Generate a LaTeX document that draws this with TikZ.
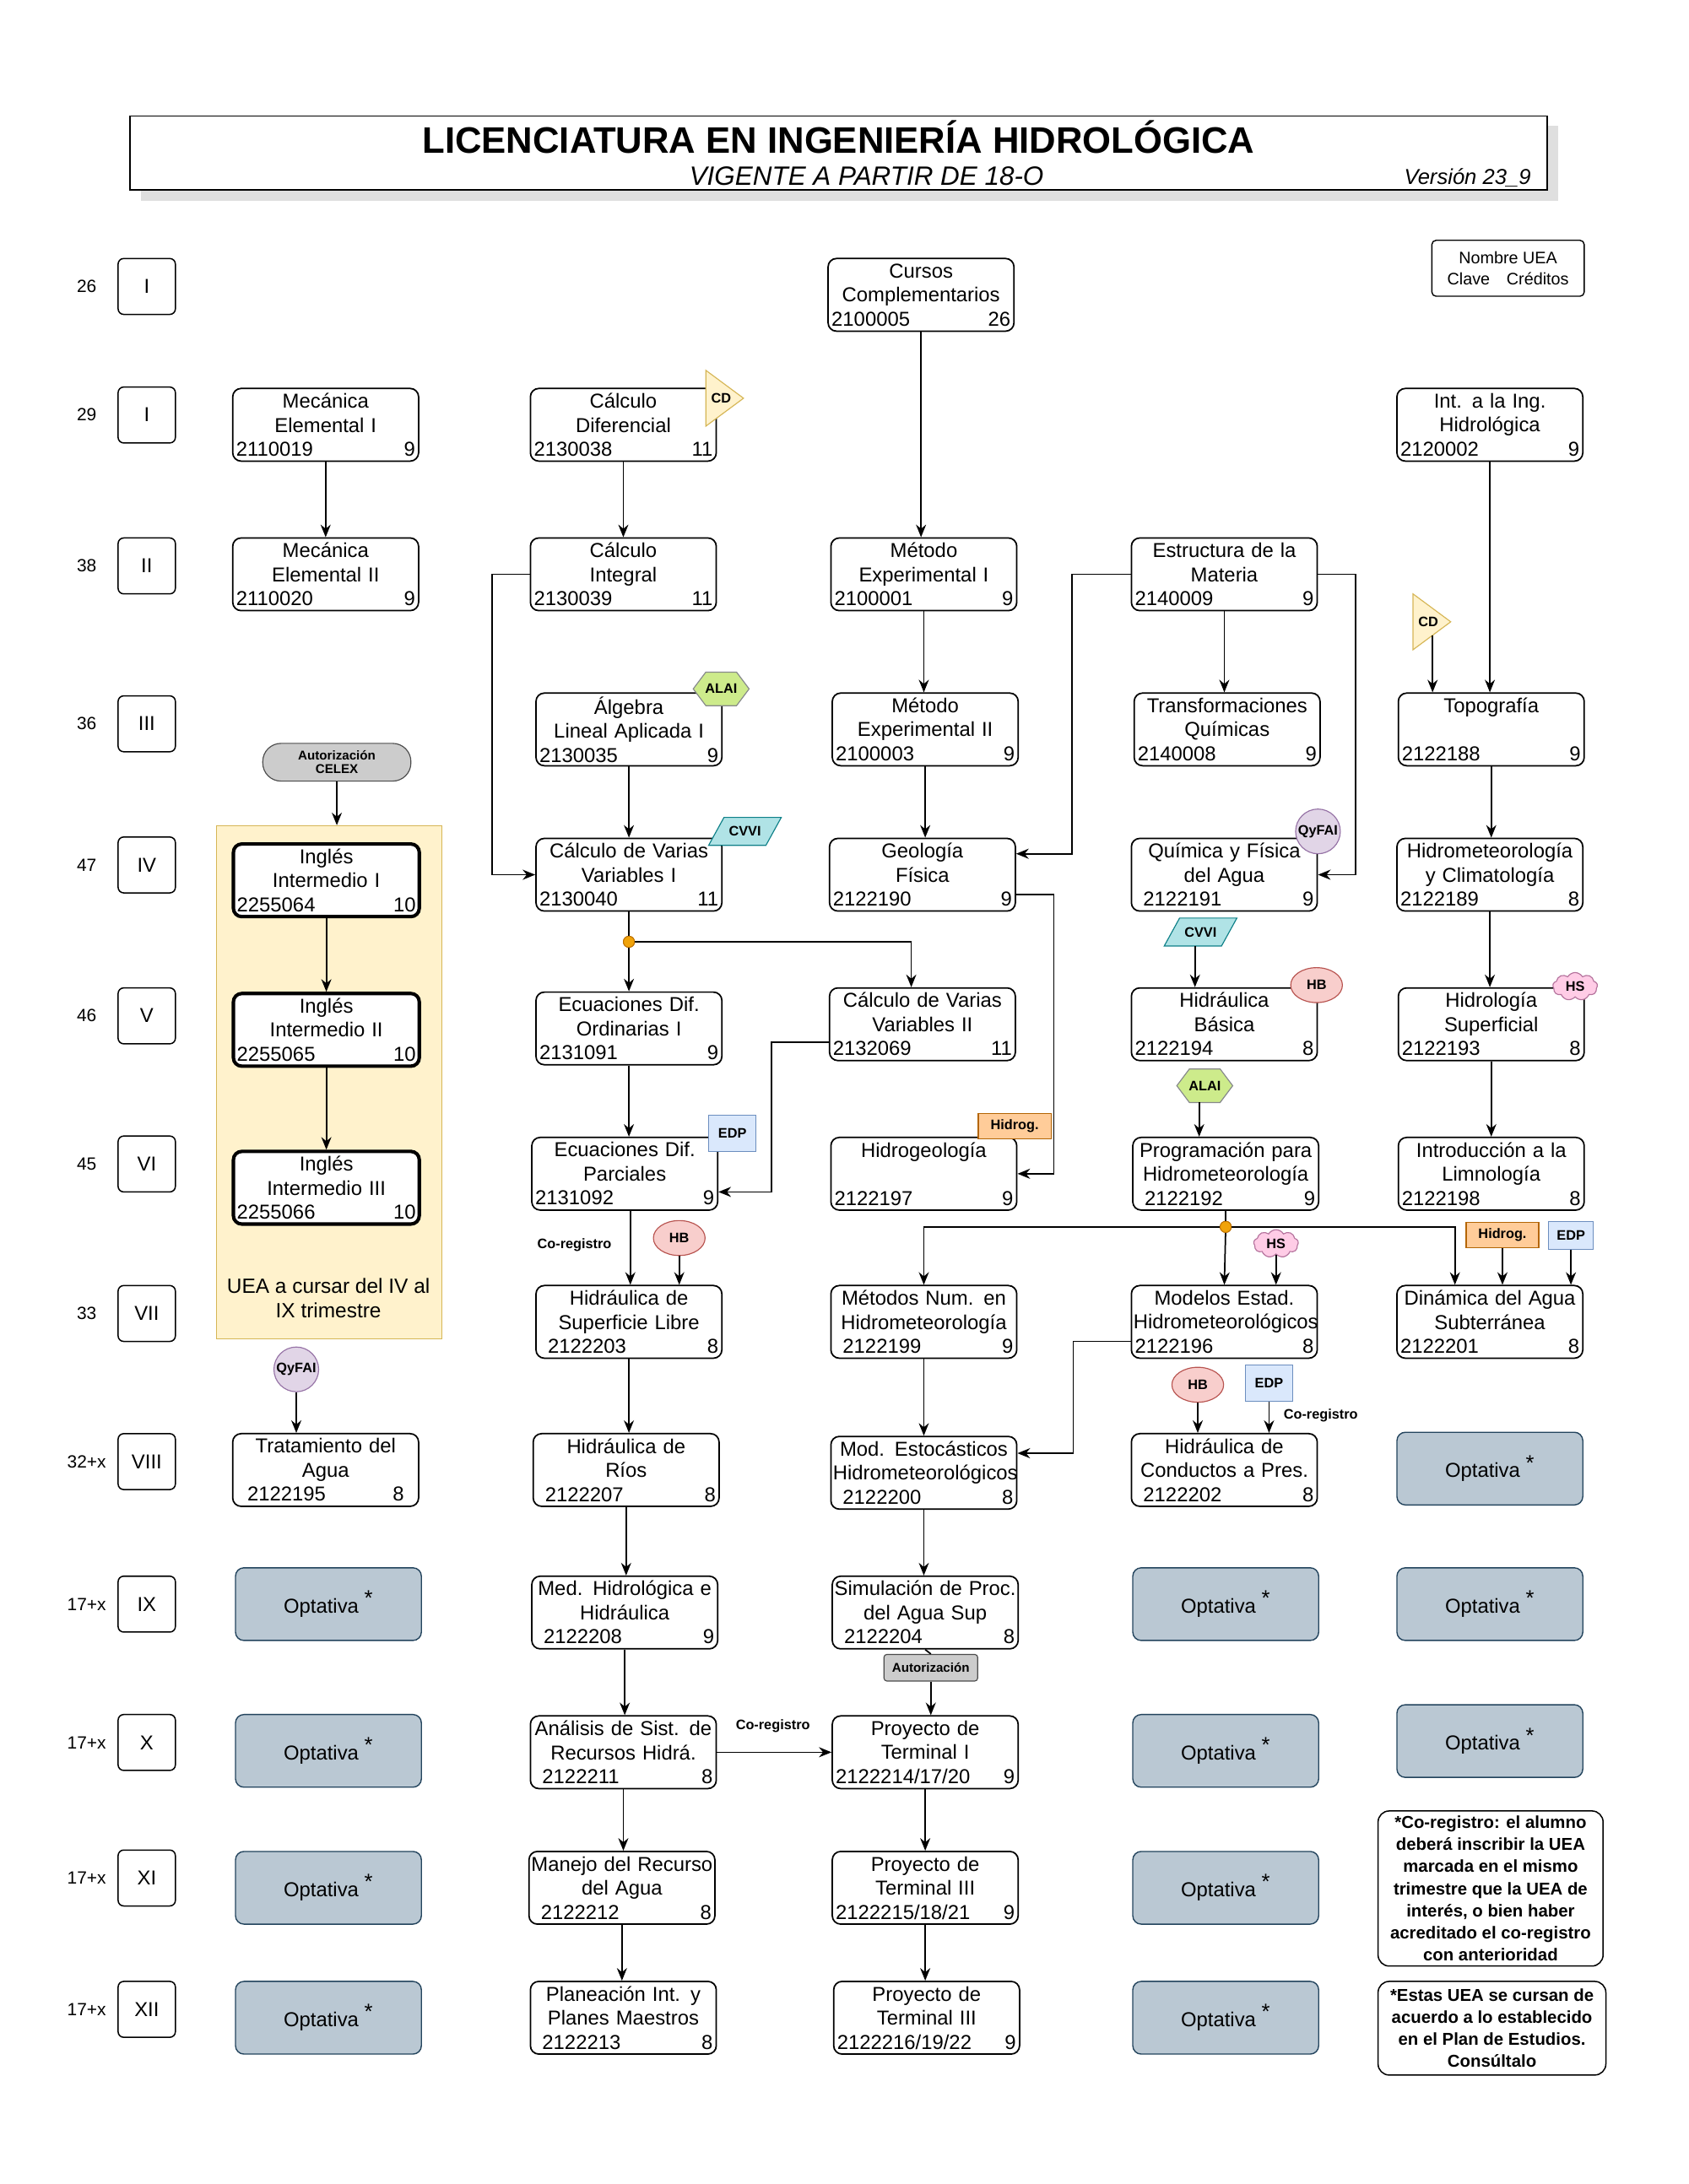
\documentclass[tikz,border=0pt]{standalone}
\usepackage{fontspec}
\setmainfont{Liberation Sans}
\usetikzlibrary{arrows.meta,calc,shapes.geometric,shapes.symbols}
\definecolor{optf}{HTML}{BAC8D3}\definecolor{optd}{HTML}{23445D}
\definecolor{yelf}{HTML}{FFF2CC}\definecolor{yeld}{HTML}{D6B656}
\definecolor{grnf}{HTML}{CDEB8B}\definecolor{grnd}{HTML}{36393D}
\definecolor{cyaf}{HTML}{B0E3E6}\definecolor{cyad}{HTML}{0E8088}
\definecolor{purf}{HTML}{E1D5E7}\definecolor{purd}{HTML}{9673A6}
\definecolor{redf}{HTML}{F8CECC}\definecolor{redd}{HTML}{B85450}
\definecolor{pnkf}{HTML}{FFCCE6}\definecolor{pnkd}{HTML}{B5739D}
\definecolor{bluf}{HTML}{DAE8FC}\definecolor{blud}{HTML}{6C8EBF}
\definecolor{orgf}{HTML}{FFCC99}\definecolor{orgd}{HTML}{B46504}
\definecolor{dotf}{HTML}{F0A30A}\definecolor{dotd}{HTML}{BD7000}
\newcommand\bxf{\fontsize{20.5}{24.5}\selectfont}
\newcommand\bdf{\fontsize{14}{16}\selectfont\bfseries}
\tikzset{
 uea/.style={draw,fill=white,line width=1.5pt,rounded corners=3mm,minimum width=66.5mm,minimum height=26mm,text width=65mm,align=center,inner sep=0.5pt,font=\bxf},
 thk/.style={uea,line width=3.5pt},
 opt/.style={draw=optd,fill=optf,line width=1.2pt,rounded corners=3mm,minimum width=66.5mm,minimum height=26mm,font=\bxf},
 rom/.style={draw,line width=1.3pt,rounded corners=2mm,minimum width=20.5mm,minimum height=20mm,font=\bxf},
 num/.style={font=\fontsize{18}{20}\selectfont},
 arr/.style={-{Stealth[length=4.5mm,width=3.6mm]},line width=1.5pt},
 ln/.style={line width=1.5pt},
 bdg/.style={font=\bdf,inner sep=0pt},
 circ/.style={circle,draw=purd,fill=purf,line width=1pt,minimum size=16mm,bdg},
 hbs/.style={ellipse,draw=redd,fill=redf,line width=1pt,minimum width=18.5mm,minimum height=12.5mm,bdg},
 hsc/.style={cloud,cloud puffs=9,cloud puff arc=120,aspect=1.7,draw=pnkd,fill=pnkf,line width=1pt,minimum width=16mm,minimum height=10mm,bdg},
 edpt/.style={rectangle,draw=blud,fill=bluf,line width=1pt,minimum width=17mm,minimum height=13mm,bdg},
 hgt/.style={rectangle,draw=orgd,fill=orgf,line width=1pt,minimum width=26mm,minimum height=9mm,bdg},
 dotn/.style={circle,draw=dotd,fill=dotf,line width=0.8pt,minimum size=4mm,inner sep=0pt},
 lbl/.style={font=\bdf},
 note/.style={draw,line width=1.3pt,rounded corners=4mm,align=center,font=\fontsize{17.5}{22.5}\selectfont\bfseries,inner sep=0.5pt},
}
\newcommand\uea[6]{\node[uea] (#1) at (#2,#3) {#4\\\makebox[64mm]{#5\hfill#6}};}
\newcommand\ueat[6]{\node[thk] (#1) at (#2,#3) {#4\\\makebox[64mm]{#5\hfill#6}};}
\newcommand\optn[3]{\node[opt] (#1) at (#2,#3) {\raisebox{-1.2mm}{Optativa \textsuperscript{\fontsize{22}{22}\selectfont *}}};}
\newcommand\vd[2]{\draw[arr] (#1.south) -- (#1.south |- #2.north);}
\newcommand\romn[4]{\node[num] (n#1) at (62,#2) {#3}; \node[rom] (r#1) at (105,#2) {#4};}
\newcommand\hexn[4]{\begin{scope}[shift={(#2,#3)}]\draw[draw=grnd!60,fill=grnf,line width=1pt] (-20,0)--(-11,-12)--(11,-12)--(20,0)--(11,12)--(-11,12)--cycle;\node[bdg] (#1) at (0,0) {#4};\end{scope}}
\newcommand\parn[3]{\begin{scope}[shift={(#2,#3)}]\draw[draw=cyad,fill=cyaf,line width=1pt] (-26,10)--(-15,-10)--(26,-10)--(15,10)--cycle;\node[bdg] (#1) at (0,0) {CVVI};\end{scope}}
\newcommand\trin[3]{\begin{scope}[shift={(#2,#3)}]\draw[draw=yeld,fill=yelf,line width=1pt] (0,0)--(27,20)--(0,40)--cycle;\node[bdg] (#1) at (11,20) {CD};\end{scope}}
\begin{document}
\begin{tikzpicture}[x=0.5mm,y=-0.5mm]
\useasboundingbox (0,0) rectangle (1208,1563);
% title
\fill[gray!25] (101,90) rectangle (1115,144);
\node[draw,line width=1.4pt,fill=white,minimum width=507mm,minimum height=26.5mm] (tbox) at (600,109.5) {};
\node[font=\fontsize{37.5}{40}\selectfont\bfseries] (title) at (600,98) {LICENCIATURA EN INGENIERÍA HIDROLÓGICA};
\node[font=\fontsize{27}{30}\selectfont\itshape] (sub) at (620,126) {VIGENTE A PARTIR DE 18-O};
\node[font=\fontsize{22}{24}\selectfont\itshape] (ver) at (1050,127) {Versión 23\_9};
% legend
\node[draw,line width=1.2pt,rounded corners=1.5mm,minimum width=54.5mm,minimum height=20mm,align=center,font=\fontsize{17}{22}\selectfont] (leg) at (1079,192) {Nombre UEA\\Clave\quad Créditos};
% rows
\romn{1}{205}{26}{I}
\romn{2}{297}{29}{I}
\romn{3}{405}{38}{II}
\romn{4}{518}{36}{III}
\romn{5}{619}{47}{IV}
\romn{6}{727}{46}{V}
\romn{7}{833}{45}{VI}
\romn{8}{940}{33}{VII}
\romn{9}{1046}{32+x}{VIII}
\romn{10}{1148}{17+x}{IX}
\romn{11}{1247}{17+x}{X}
\romn{12}{1344}{17+x}{XI}
\romn{13}{1438}{17+x}{XII}
% panel
\node[draw=yeld,fill=yelf,line width=1.2pt,minimum width=80.5mm,minimum height=183.5mm] (panel) at (235.5,774.5) {};
\node[font=\fontsize{21}{25}\selectfont,align=center,inner sep=0pt] (ptxt) at (235,929) {UEA a cursar del IV al\\IX trimestre};
\node[draw=black!70,fill=black!20,line width=1pt,rounded corners=6.5mm,minimum width=53mm,minimum height=13.5mm,align=center,font=\fontsize{13}{14}\selectfont\bfseries] (celex) at (241,545.5) {Autorización\\CELEX};
% column 1
\uea{me1}{233}{304}{Mecánica\\Elemental I}{2110019}{9}
\uea{me2}{233}{411}{Mecánica\\Elemental II}{2110020}{9}
\ueat{ing1}{233.5}{630}{Inglés\\Intermedio I}{2255064}{10}
\ueat{ing2}{233.5}{737}{Inglés\\Intermedio II}{2255065}{10}
\ueat{ing3}{233.5}{850}{Inglés\\Intermedio III}{2255066}{10}
\node[circ] (qy1) at (212,980) {QyFAI};
\uea{ta}{233}{1052}{Tratamiento del\\Agua}{\hspace{4mm}2122195}{8\hspace{4mm}}
\optn{op1a}{235}{1148}
\optn{op1b}{235}{1253}
\optn{op1c}{235}{1351}
\optn{op1d}{235}{1444}
% column 2
\uea{cd1}{446}{304}{Cálculo\\Diferencial}{2130038}{11}
\trin{cda}{505}{265}
\uea{ci}{446}{411}{Cálculo\\Integral}{2130039}{11}
\uea{al}{450}{522}{Álgebra\\Lineal Aplicada I}{2130035}{9}
\hexn{ala1}{516}{493}{ALAI}
\uea{cv1}{450}{626}{Cálculo de Varias\\Variables I}{2130040}{11}
\parn{cvv1}{533}{595}
\uea{edo}{450}{736}{Ecuaciones Dif.\\Ordinarias I}{2131091}{9}
\uea{edp}{447}{840}{Ecuaciones Dif.\\Parciales}{2131092}{9}
\node[edpt] (edp1) at (524,811) {EDP};
\node[lbl] (co1) at (411,891) {Co-registro};
\node[hbs] (hb1) at (486,886) {HB};
\uea{hsl}{450}{946}{Hidráulica de\\Superficie Libre}{\hspace{3mm}2122203}{8}
\uea{hr}{448}{1052}{Hidráulica de\\Ríos}{\hspace{3mm}2122207}{8}
\uea{mh}{447}{1154}{Med. Hidrológica e\\Hidráulica}{\hspace{3mm}2122208}{9}
\uea{an}{446}{1254}{Análisis de Sist. de\\Recursos Hidrá.}{\hspace{3mm}2122211}{8}
\uea{mr}{445}{1351}{Manejo del Recurso\\del Agua}{\hspace{3mm}2122212}{8}
\uea{pl}{446}{1444}{Planeación Int. y\\Planes Maestros}{\hspace{3mm}2122213}{8}
% column 3
\uea{cc}{659}{211}{Cursos\\Complementarios}{2100005}{26}
\uea{mx1}{661}{411}{Método\\Experimental I}{2100001}{9}
\uea{mx2}{662}{522}{Método\\Experimental II}{2100003}{9}
\uea{geo}{660}{626}{Geología\\Física}{2122190}{9}
\uea{cv2}{660}{733}{Cálculo de Varias\\Variables II}{2132069}{11}
\uea{hg}{661}{840}{Hidrogeología\\\mbox{}}{2122197}{9}
\node[hgt] (hgt1) at (726,806) {Hidrog.};
\uea{mn}{661}{946}{Métodos Num. en\\Hidrometeorología}{\hspace{3mm}2122199}{9}
\uea{mest}{661}{1054}{Mod. Estocásticos\\Hidrometeorológicos}{\hspace{3mm}2122200}{8}
\uea{sim}{662}{1154}{Simulación de Proc.\\del Agua Sup}{\hspace{3mm}2122204}{8}
\node[draw=black!70,fill=black!20,line width=1pt,rounded corners=1mm,minimum width=33.5mm,minimum height=9.5mm,font=\fontsize{13}{14}\selectfont\bfseries,inner sep=0pt] (aut) at (666,1193.5) {Autorización};
\uea{pt1}{662}{1254}{Proyecto de\\Terminal I}{2122214/17/20}{9}
\uea{pt2}{662}{1351}{Proyecto de\\Terminal III}{2122215/18/21}{9}
\uea{pt3}{663}{1444}{Proyecto de\\Terminal III}{2122216/19/22}{9}
% column 4
\uea{em}{876}{411}{Estructura de la\\Materia}{2140009}{9}
\uea{tq}{878}{522}{Transformaciones\\Químicas}{2140008}{9}
\uea{qfa}{876}{626}{Química y Física\\del Agua}{\hspace{3mm}2122191}{9}
\node[circ] (qy2) at (943,595) {QyFAI};
\parn{cvv2}{859}{667}
\uea{hb}{876}{733}{Hidráulica\\Básica}{2122194}{8}
\node[hbs] (hb2) at (942,705) {HB};
\hexn{ala2}{862}{777}{ALAI}
\uea{prog}{877}{840}{Programación para\\Hidrometeorología}{\hspace{3mm}2122192}{9}
\node[dotn] (dot2) at (877,878) {};
\node[hsc] (hs2) at (913,890) {HS};
\uea{mod}{876}{946}{Modelos Estad.\\Hidrometeorológicos}{2122196}{8}
\node[hbs] (hb3) at (857,991) {HB};
\node[edpt] (edp3) at (908,990) {EDP};
\node[lbl] (co3) at (945,1013) {Co-registro};
\uea{hcp}{876}{1052}{Hidráulica de\\Conductos a Pres.}{\hspace{3mm}2122202}{8}
\optn{op4a}{877}{1148}
\optn{op4b}{877}{1253}
\optn{op4c}{877}{1351}
\optn{op4d}{877}{1444}
% column 5
\uea{iih}{1066}{304}{Int. a la Ing.\\Hidrológica}{2120002}{9}
\trin{cdb}{1011}{425}
\uea{topo}{1067}{522}{Topografía\\\mbox{}}{2122188}{9}
\uea{hyc}{1066}{626}{Hidrometeorología\\y Climatología}{2122189}{8}
\uea{hs}{1067}{733}{Hidrología\\Superficial}{2122193}{8}
\node[hsc] (hs1) at (1127,706) {HS};
\uea{lim}{1067}{840}{Introducción a la\\Limnología}{2122198}{8}
\node[hgt] (hgt2) at (1075,884) {Hidrog.};
\node[edpt,minimum height=10mm,minimum width=16mm] (edp2) at (1124,884) {EDP};
\uea{das}{1066}{946}{Dinámica del Agua\\Subterránea}{2122201}{8}
\optn{op5a}{1066}{1051}
\optn{op5b}{1066}{1148}
\optn{op5c}{1066}{1246}
\node[note,minimum width=80.5mm,minimum height=55.5mm] (note1) at (1066.5,1351.5) {*Co-registro: el alumno\\deberá inscribir la UEA\\marcada en el mismo\\trimestre que la UEA de\\interés, o bien haber\\acreditado el co-registro\\con anterioridad};
\node[note,minimum width=81.5mm,minimum height=33.5mm] (note2) at (1067.5,1451.5) {*Estas UEA se cursan de\\acuerdo a lo establecido\\en el Plan de Estudios.\\Consúltalo};
% connectors
\vd{me1}{me2} \vd{cd1}{ci} \vd{cc}{mx1} \vd{iih}{topo}
\vd{mx1}{mx2} \vd{mx2}{geo} \vd{em}{tq} \vd{topo}{hyc} \vd{hyc}{hs} \vd{hs}{lim}
\vd{al}{cv1} \vd{edo}{edp} \vd{hsl}{hr} \vd{hr}{mh} \vd{mh}{an} \vd{an}{mr} \vd{mr}{pl}
\vd{mn}{mest} \vd{mest}{sim} \vd{pt1}{pt2} \vd{pt2}{pt3}
\vd{ing1}{ing2} \vd{ing2}{ing3} \vd{celex}{panel} \vd{qy1}{ta}
\vd{hb1}{hsl} \vd{hs2}{mod} \vd{hgt2}{das} \vd{edp2}{das} \vd{hb3}{hcp} \vd{edp3}{hcp}
\draw[arr] ($(edp.south)+(4,0)$) -- ($(edp.south |- hsl.north)+(4,0)$);
\draw[ln] (sim.south) -- (aut.north);
\vd{aut}{pt1}
\coordinate (cdbs) at (1025,455);
\draw[arr] (cdbs) -- (cdbs |- topo.north);
\coordinate (cvv2s) at (855,677);
\draw[arr] (cvv2s) -- (cvv2s |- hb.north);
\coordinate (ala2s) at (858,789);
\draw[arr] (ala2s) -- (ala2s |- prog.north);
\draw[arr] (ci.west) -- ++(-27,0) |- (cv1.west);
\draw[arr] (em.west) -- ++(-42,0) |- ($(geo.east)+(0,-15)$);
\draw[arr] (em.east) -- ++(27,0) |- (qfa.east);
\node[dotn] (dot1) at (450,674) {};
\draw[ln] (cv1.south) -- (dot1);
\draw[arr] (dot1) -- (edo.north);
\draw[arr] (dot1) -| ($(cv2.north)+(-8,0)$);
\draw[arr] ($(cv2.west)+(0,13)$) -- ++(-41,0) |- ($(edp.east)+(0,13)$);
\draw[arr] ($(geo.east)+(0,14)$) -- ++(27,0) |- (hg.east);
\draw[arr] ($(mod.west)+(0,14)$) -- ++(-41,0) |- ($(mest.east)+(0,-14)$);
\draw[ln] (prog.south) -- (dot2);
\draw[arr] (dot2) -- (mod.north);
\draw[arr] (dot2) -| (mn.north);
\draw[arr] (dot2) -| ($(das.north)+(-25,0)$);
\draw[arr] (an.east) -- (pt1.west);
\node[lbl] (co2) at (553,1235) {Co-registro};
\node[dotn] at (450,674) {};
\node[dotn] at (877,878) {};
\end{tikzpicture}
\end{document}
